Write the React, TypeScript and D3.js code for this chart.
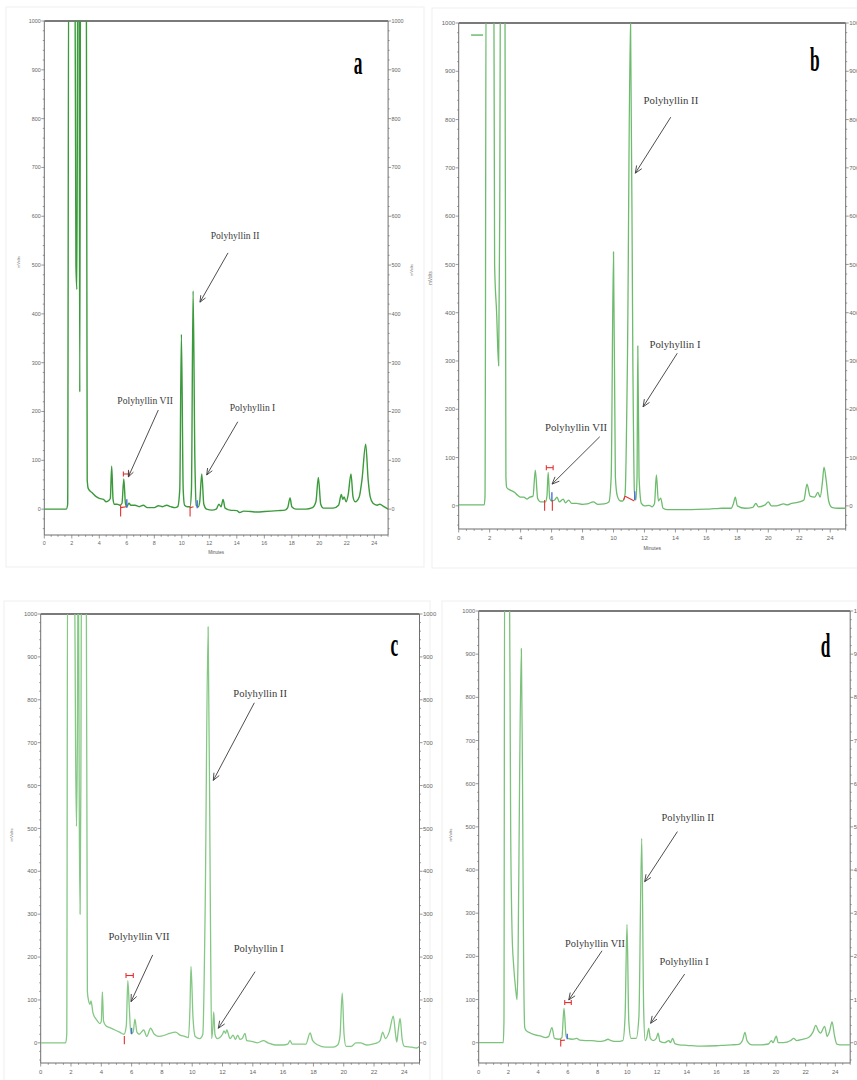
import React from "react";
import * as d3 from "d3";

type Pt = [number, number];

// chromatogram traces, [minutes, mVolts]
const traceA: Pt[] = [
  [0, 0], [1.6, 0], [1.7, 10], [1.78, 1200], [2.22, 1200], [2.3, 500], [2.37, 450], [2.44, 1200],
  [2.52, 1200], [2.58, 240], [2.64, 1200], [3.05, 1200], [3.12, 60], [3.2, 42], [3.5, 33], [3.8, 25],
  [4.0, 22], [4.3, 20], [4.5, 15], [4.7, 18], [4.8, 22], [4.9, 88], [5.0, 20], [5.1, 10], [5.3, 10],
  [5.5, 8], [5.65, 12], [5.78, 62], [5.9, 12], [6.0, 5], [6.15, 12], [6.3, 8], [6.6, 8], [6.9, 5],
  [7.2, 8], [7.5, 3], [8.0, 3], [8.3, 7], [8.6, 5], [8.9, 8], [9.2, 5], [9.5, 3], [9.7, 5], [9.85, 40],
  [9.97, 358], [10.1, 40], [10.2, 8], [10.4, 5], [10.6, 5], [10.7, 40], [10.82, 447], [10.95, 100],
  [11.05, 8], [11.2, 5], [11.3, 15], [11.45, 72], [11.6, 10], [11.8, 0], [12.2, -2], [12.5, 0],
  [12.7, 10], [12.85, 5], [13.0, 20], [13.15, 2], [13.5, -2], [14.0, -3], [14.2, -7], [14.5, -4],
  [15, -5], [15.5, -6], [16, -5], [16.5, -4], [17, -3], [17.5, -2], [17.7, 3], [17.87, 23], [18.0, 5],
  [18.3, 0], [19, 0], [19.5, 3], [19.75, 15], [19.93, 65], [20.1, 10], [20.3, 2], [21, 2], [21.4, 8],
  [21.6, 30], [21.7, 20], [21.8, 25], [21.95, 15], [22.1, 30], [22.3, 72], [22.45, 25], [22.6, 15],
  [22.9, 25], [23.1, 60], [23.37, 133], [23.55, 60], [23.7, 25], [23.9, 12], [24.2, 8], [24.4, 10],
  [24.7, 5], [25, 0],
];

const traceB: Pt[] = [
  [0, 2], [1.65, 2], [1.7, 20], [1.78, 1200], [2.26, 1200], [2.32, 500], [2.45, 400], [2.58, 290],
  [2.65, 600], [2.71, 1200], [2.98, 1200], [3.05, 60], [3.1, 38], [3.3, 33], [3.6, 28], [3.8, 22],
  [4.0, 18], [4.2, 18], [4.4, 14], [4.6, 18], [4.8, 20], [4.95, 74], [5.1, 15], [5.3, 8], [5.6, 8],
  [5.7, 20], [5.78, 69], [5.88, 15], [6.0, 10], [6.2, 12], [6.35, 18], [6.5, 8], [6.75, 14], [6.9, 6],
  [7.1, 12], [7.3, 5], [7.6, 5], [8, 3], [8.3, 4], [8.7, 8], [9.0, 3], [9.4, 4], [9.7, 8], [9.85, 60],
  [10.0, 526], [10.12, 60], [10.25, 20], [10.45, 10], [10.6, 10], [10.75, 25], [10.9, 300],
  [11.1, 1010], [11.25, 300], [11.35, 30], [11.45, 12], [11.52, 60], [11.57, 331], [11.65, 60],
  [11.8, 5], [12.0, 0], [12.3, 1], [12.5, -2], [12.65, 5], [12.77, 64], [12.9, 10], [13.05, 16],
  [13.2, -5], [13.5, -8], [14, -8], [15, -8], [16, -7], [16.5, -6], [17, -5], [17.6, -5], [17.75, 5],
  [17.87, 18], [18.0, 0], [18.5, -5], [19.0, -3], [19.2, 5], [19.35, -2], [19.8, 2], [20.0, 8],
  [20.2, 0], [20.5, 0], [21, 4], [21.2, 2], [21.5, 5], [22.0, 8], [22.3, 12], [22.5, 45], [22.7, 20],
  [23.0, 18], [23.2, 28], [23.35, 18], [23.5, 50], [23.6, 80], [23.75, 50], [23.9, 10], [24.1, -3],
  [24.5, -5], [25, -5],
];

const traceC: Pt[] = [
  [0, 0], [1.65, 0], [1.72, 20], [1.78, 1200], [2.22, 1200], [2.3, 700], [2.36, 505], [2.42, 700],
  [2.48, 1200], [2.55, 500], [2.6, 300], [2.65, 600], [2.7, 1200], [3.0, 1200], [3.08, 120],
  [3.15, 100], [3.25, 90], [3.32, 98], [3.45, 70], [3.7, 53], [3.9, 45], [4.0, 50], [4.07, 119],
  [4.15, 50], [4.3, 40], [4.6, 35], [4.9, 30], [5.2, 25], [5.5, 20], [5.65, 40], [5.75, 145],
  [5.85, 80], [5.95, 22], [6.1, 25], [6.22, 55], [6.35, 25], [6.5, 20], [6.8, 30], [7.0, 15],
  [7.25, 34], [7.5, 20], [7.8, 15], [8.2, 18], [8.5, 22], [8.9, 25], [9.2, 18], [9.5, 15],
  [9.75, 12], [9.85, 80], [9.92, 178], [10.05, 60], [10.2, 15], [10.5, 10], [10.7, 20], [10.85, 300],
  [11.05, 970], [11.2, 300], [11.28, 10], [11.35, 30], [11.42, 72], [11.5, 20], [11.65, 10],
  [11.8, 12], [12.0, 20], [12.1, 28], [12.2, 22], [12.28, 30], [12.5, 10], [12.7, 18], [12.85, 8],
  [13.0, 18], [13.15, 8], [13.3, 10], [13.48, 22], [13.6, 5], [14, 3], [14.3, 0], [14.7, 5], [15, 0],
  [15.5, -5], [16.0, -5], [16.3, -3], [16.46, 5], [16.6, -3], [17, -3], [17.5, -3], [17.78, 23],
  [17.95, 5], [18.3, -5], [18.8, -10], [19.3, -10], [19.6, -5], [19.75, 15], [19.9, 116], [20.02, 20],
  [20.15, -8], [20.5, -8], [20.8, 0], [21.1, 0], [21.5, -5], [21.9, -3], [22.2, 0], [22.4, 5],
  [22.57, 25], [22.75, 10], [23.0, 25], [23.27, 62], [23.42, 20], [23.5, 2], [23.6, 30], [23.72, 57],
  [23.85, 10], [24.0, -8], [24.5, -10], [24.8, -12], [25, -8],
];

const traceD: Pt[] = [
  [0, 0], [1.65, 0], [1.7, 50], [1.75, 1200], [2.05, 1200], [2.15, 500], [2.25, 250], [2.35, 180],
  [2.5, 120], [2.58, 100], [2.65, 200], [2.75, 600], [2.87, 913], [2.95, 600], [3.02, 200],
  [3.1, 35], [3.2, 28], [3.5, 22], [3.8, 18], [4.2, 15], [4.5, 12], [4.7, 14], [4.93, 35], [5.1, 10],
  [5.4, 8], [5.6, 12], [5.74, 80], [5.88, 15], [6.0, 10], [6.3, 8], [6.6, 10], [6.8, 6], [7.2, 5],
  [7.6, 5], [8, 3], [8.5, 5], [8.7, 8], [8.9, 5], [9.3, 3], [9.7, 5], [9.85, 60], [9.98, 274],
  [10.1, 50], [10.25, 10], [10.6, 10], [10.78, 60], [10.97, 473], [11.1, 80], [11.2, 5], [11.3, 10],
  [11.44, 33], [11.55, 10], [11.75, 5], [11.95, 10], [12.07, 22], [12.2, 3], [12.5, 0], [12.8, 5],
  [12.9, 0], [13.05, 10], [13.2, -2], [13.5, -5], [14, -6], [15, -8], [16, -7], [16.5, -6], [17, -5],
  [17.5, -4], [17.75, 5], [17.92, 24], [18.05, 5], [18.4, -5], [19, -5], [19.5, -3], [19.7, 5],
  [19.8, 0], [20.03, 15], [20.15, 0], [20.5, 0], [21, 5], [21.2, 10], [21.4, 5], [21.8, 8], [22.2, 12],
  [22.5, 25], [22.68, 40], [22.85, 28], [23.0, 22], [23.28, 38], [23.45, 15], [23.6, 25], [23.78, 48],
  [23.95, 15], [24.1, -3], [24.5, -5], [25, -5],
];

const yTickValues = [0, 100, 200, 300, 400, 500, 600, 700, 800, 900, 1000];
const xTickValues = [0, 2, 4, 6, 8, 10, 12, 14, 16, 18, 20, 22, 24];

// annotations: label, text centre (t, v), arrow from (t1, v1) to tip (t2, v2)
type Annot = { label: string; t: number; v: number; t1: number; v1: number; t2: number; v2: number };

const annotsA: Annot[] = [
  { label: "Polyhyllin II", t: 13.87, v: 561, t1: 13.36, v1: 525, t2: 11.32, v2: 424 },
  { label: "Polyhyllin VII", t: 7.33, v: 223, t1: 8.29, v1: 203, t2: 6.11, v2: 66 },
  { label: "Polyhyllin I", t: 15.14, v: 208, t1: 14.07, v1: 179, t2: 11.81, v2: 70 },
];
const annotsB: Annot[] = [
  { label: "Polyhyllin II", t: 13.71, v: 841, t1: 13.7, v1: 805, t2: 11.41, v2: 689 },
  { label: "Polyhyllin I", t: 13.97, v: 335, t1: 14.12, v1: 316, t2: 11.91, v2: 205 },
  { label: "Polyhyllin VII", t: 7.58, v: 162, t1: 9.11, v1: 143, t2: 6.03, v2: 45 },
];
const annotsC: Annot[] = [
  { label: "Polyhyllin II", t: 14.48, v: 815, t1: 14.1, v1: 793, t2: 11.39, v2: 612 },
  { label: "Polyhyllin VII", t: 6.49, v: 248, t1: 7.39, v1: 205, t2: 5.96, v2: 96 },
  { label: "Polyhyllin I", t: 14.39, v: 221, t1: 14.15, v1: 166, t2: 11.72, v2: 34 },
];
const annotsD: Annot[] = [
  { label: "Polyhyllin II", t: 14.08, v: 523, t1: 13.37, v1: 489, t2: 11.17, v2: 373 },
  { label: "Polyhyllin VII", t: 7.83, v: 230, t1: 8.3, v1: 213, t2: 6.06, v2: 99 },
  { label: "Polyhyllin I", t: 13.82, v: 188, t1: 13.86, v1: 159, t2: 11.57, v2: 45 },
];

// integration marks: red brackets [t0, t1, v], red ticks [t, v0, v1], blue ticks [t, v0, v1]
const bracketsA = [[5.75, 6.15, 72]];
const redTicksA = [[5.55, -15, 8], [10.6, -15, 5]];
const redBaseA = [[5.55, 3, 5.95, 5], [10.6, 3, 10.85, 5]];
const blueTicksA = [[6.0, 3, 20], [11.12, 2, 18]];

const bracketsB = [[5.66, 6.1, 79]];
const redTicksB = [[5.55, -10, 12], [6.05, -10, 12]];
const redBaseB = [[10.65, 12, 10.75, 20], [10.75, 20, 11.35, 10]];
const blueTicksB = [[6.02, 10, 28], [11.37, 12, 30]];

const bracketsC = [[5.63, 6.11, 157]];
const redTicksC = [[5.52, -3, 16]];
const redBaseC: number[][] = [];
const blueTicksC = [[6.0, 20, 35]];

const bracketsD = [[5.79, 6.23, 93]];
const redTicksD = [[5.52, -9, 8]];
const redBaseD = [[5.52, 5, 5.8, 6]];
const blueTicksD = [[5.96, 8, 21]];

type Geo = { left: number; right: number; top: number; bottom: number; yMin: number; s: number };

const GREY = "#6f6f6f";

function Panel(props: {
  id: string;
  g: Geo;
  trace: Pt[];
  color: string;
  lw: number;
  annots: Annot[];
  brackets: number[][];
  redTicks: number[][];
  redBase: number[][];
  blueTicks: number[][];
  letter: string;
  letterPos: [number, number];
  minutes?: boolean;
  yTitle: [number, number][];
  legend?: boolean;
}) {
  const { id, g, trace, color, lw, annots, letter, letterPos } = props;
  const x = d3.scaleLinear().domain([0, 25]).range([g.left, g.right]);
  const y = d3.scaleLinear().domain([g.yMin, 1000]).range([g.bottom, g.top]);
  const line = d3
    .line<Pt>()
    .x(d => x(d[0]))
    .y(d => y(d[1]))
    .curve(d3.curveMonotoneX);
  const s = g.s;
  const minorY = d3.range(-40, 1001, 20);
  const minorX = d3.range(0, 25.01, 0.5);
  const tickFont = 5.4 * s;

  return (
    <g>
      <defs>
        <clipPath id={"clip-" + id}>
          <rect x={g.left} y={g.top} width={g.right - g.left} height={g.bottom - g.top} />
        </clipPath>
      </defs>

      {/* left axis */}
      <line x1={g.left} x2={g.left} y1={g.top} y2={g.bottom} stroke={GREY} strokeWidth={1} />
      {minorY.map(v => (
        <line key={"ly" + v} x1={g.left - (v % 100 === 0 ? 3 : 1.5)} x2={g.left} y1={y(v)} y2={y(v)} stroke={GREY} strokeWidth={0.7} />
      ))}
      {yTickValues.map(v => (
        <text key={"lt" + v} x={g.left - 3.5} y={y(v)} dy="0.35em" textAnchor="end" fontSize={tickFont} fill="#666" fontFamily="Liberation Sans">
          {v}
        </text>
      ))}

      {/* right axis */}
      <line x1={g.right} x2={g.right} y1={g.top} y2={g.bottom} stroke={GREY} strokeWidth={1} />
      {minorY.map(v => (
        <line key={"ry" + v} x1={g.right} x2={g.right + (v % 100 === 0 ? 3 : 1.5)} y1={y(v)} y2={y(v)} stroke={GREY} strokeWidth={0.7} />
      ))}
      {yTickValues.map(v => (
        <text key={"rt" + v} x={g.right + 3.5} y={y(v)} dy="0.35em" textAnchor="start" fontSize={tickFont} fill="#666" fontFamily="Liberation Sans">
          {v}
        </text>
      ))}

      {/* bottom axis */}
      <line x1={g.left} x2={g.right} y1={g.bottom} y2={g.bottom} stroke={GREY} strokeWidth={1} />
      {minorX.map(t => (
        <line key={"bx" + t} x1={x(t)} x2={x(t)} y1={g.bottom} y2={g.bottom + (t % 2 === 0 ? 3.5 : 1.8)} stroke={GREY} strokeWidth={0.7} />
      ))}
      {xTickValues.map(t => (
        <text key={"bt" + t} x={x(t)} y={g.bottom + 10 * s} textAnchor="middle" fontSize={tickFont} fill="#666" fontFamily="Liberation Sans">
          {t}
        </text>
      ))}
      {props.minutes && (
        <text x={x(12.5)} y={g.bottom + 19 * s} textAnchor="middle" fontSize={4.5 * s} fill="#555" fontFamily="Liberation Sans">
          Minutes
        </text>
      )}
      {props.yTitle.map(([px, py], i) => (
        <text key={"yt" + i} x={px} y={py} transform={`rotate(-90, ${px}, ${py})`} textAnchor="middle" fontSize={4 * s} fill="#777" fontFamily="Liberation Sans">
          mVolts
        </text>
      ))}

      {/* top frame */}
      <line x1={g.left} x2={g.right} y1={g.top} y2={g.top} stroke="#7a7a7a" strokeWidth={2} />

      {props.legend && (
        <line x1={x(0.8)} x2={x(1.57)} y1={y(975)} y2={y(975)} stroke={color} strokeWidth={1.5} />
      )}

      {/* trace */}
      <path d={line(trace) || ""} fill="none" stroke={color} strokeWidth={lw} strokeLinejoin="round" clipPath={`url(#clip-${id})`} />

      {/* integration marks */}
      {props.redBase.map((r, i) => (
        <line key={"rb" + i} x1={x(r[0])} y1={y(r[1])} x2={x(r[2])} y2={y(r[3])} stroke="#e53030" strokeWidth={1.1} />
      ))}
      {props.redTicks.map((r, i) => (
        <line key={"rt" + i} x1={x(r[0])} x2={x(r[0])} y1={y(r[1])} y2={y(r[2])} stroke="#e53030" strokeWidth={1.1} />
      ))}
      {props.blueTicks.map((r, i) => (
        <line key={"bl" + i} x1={x(r[0])} x2={x(r[0])} y1={y(r[1])} y2={y(r[2])} stroke="#4a6ee0" strokeWidth={1.4} />
      ))}
      {props.brackets.map((r, i) => (
        <g key={"br" + i} stroke="#e53030" strokeWidth={1.1}>
          <line x1={x(r[0])} x2={x(r[1])} y1={y(r[2])} y2={y(r[2])} />
          <line x1={x(r[0])} x2={x(r[0])} y1={y(r[2]) - 2.5} y2={y(r[2]) + 2.5} />
          <line x1={x(r[1])} x2={x(r[1])} y1={y(r[2]) - 2.5} y2={y(r[2]) + 2.5} />
        </g>
      ))}

      {/* annotations */}
      {annots.map((a, i) => {
        const x1 = x(a.t1), y1 = y(a.v1), x2 = x(a.t2), y2 = y(a.v2);
        const ang = Math.atan2(y1 - y2, x1 - x2);
        const L = 7 * s;
        const h1: Pt = [x2 + L * Math.cos(ang + 0.4), y2 + L * Math.sin(ang + 0.4)];
        const h2: Pt = [x2 + L * Math.cos(ang - 0.4), y2 + L * Math.sin(ang - 0.4)];
        return (
          <g key={"an" + i}>
            <text x={x(a.t)} y={y(a.v)} dy="0.35em" textAnchor="middle" fontSize={9.6 * s} fill="#3a3a3a" fontFamily="Liberation Serif">
              {a.label}
            </text>
            <line x1={x1} y1={y1} x2={x2} y2={y2} stroke="#3a3a3a" strokeWidth={0.9} />
            <polyline points={`${h1[0]},${h1[1]} ${x2},${y2} ${h2[0]},${h2[1]}`} fill="none" stroke="#3a3a3a" strokeWidth={0.9} />
          </g>
        );
      })}

      {/* panel letter */}
      <text
        transform={`translate(${x(letterPos[0])}, ${y(letterPos[1])}) scale(0.62, 1.2)`}
        dy="0.35em"
        textAnchor="middle"
        fontSize={28}
        fontWeight="bold"
        fontFamily="Liberation Serif"
        fill="#000"
      >
        {letter}
      </text>
    </g>
  );
}

const geoA: Geo = { left: 44.3, right: 388.1, top: 21, bottom: 535, yMin: -53, s: 1.0 };
const geoB: Geo = { left: 458.7, right: 845.7, top: 23, bottom: 529, yMin: -48, s: 1.12 };
const geoC: Geo = { left: 40.7, right: 419.5, top: 614, bottom: 1063, yMin: -47, s: 1.1 };
const geoD: Geo = { left: 478.7, right: 850.2, top: 611, bottom: 1063, yMin: -47, s: 1.08 };

export default function App() {
  return (
    <svg width={857} height={1080} style={{ position: "absolute", left: 0, top: 0, background: "#fff" }}>
      <rect x={0} y={0} width={857} height={1080} fill="#fff" />
      <rect x={6} y={7} width={418} height={560} fill="none" stroke="#efefef" />
      <rect x={432} y={8} width={430} height={560} fill="none" stroke="#efefef" />
      <rect x={4} y={601} width={426} height={490} fill="none" stroke="#efefef" />
      <rect x={442} y={601} width={420} height={490} fill="none" stroke="#efefef" />
      <Panel
        id="a" g={geoA} trace={traceA} color="#3b9a3b" lw={1.4} annots={annotsA}
        brackets={bracketsA} redTicks={redTicksA} redBase={redBaseA} blueTicks={blueTicksA}
        letter="a" letterPos={[22.81, 916]} minutes yTitle={[[20, 262], [413, 270]]}
      />
      <Panel
        id="b" g={geoB} trace={traceB} color="#6dbb6d" lw={1.3} annots={annotsB}
        brackets={bracketsB} redTicks={redTicksB} redBase={redBaseB} blueTicks={blueTicksB}
        letter="b" letterPos={[23.0, 924]} minutes yTitle={[[432, 278]]} legend
      />
      <Panel
        id="c" g={geoC} trace={traceC} color="#84c884" lw={1.3} annots={annotsC}
        brackets={bracketsC} redTicks={redTicksC} redBase={redBaseC} blueTicks={blueTicksC}
        letter="c" letterPos={[23.34, 929]} yTitle={[[13, 835]]}
      />
      <Panel
        id="d" g={geoD} trace={traceD} color="#7cc27c" lw={1.3} annots={annotsD}
        brackets={bracketsD} redTicks={redTicksD} redBase={redBaseD} blueTicks={blueTicksD}
        letter="d" letterPos={[23.35, 921]} yTitle={[[452, 835]]}
      />
    </svg>
  );
}
